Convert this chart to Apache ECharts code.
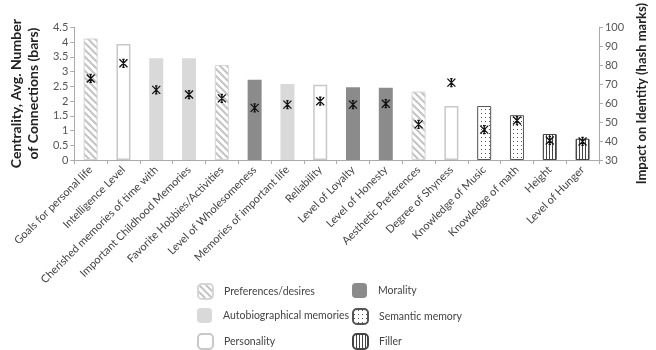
<!DOCTYPE html>
<html><head><meta charset="utf-8">
<script src="https://cdn.jsdelivr.net/npm/echarts@6/dist/echarts.min.js"></script>
<style>html,body{margin:0;padding:0;background:#fff}#c{width:656px;height:350px}</style>
</head><body><div id="c"></div>
<script>
const categories = ['Goals for personal life','Intelligence Level','Cherished memories of time with','Important Childhood Memories','Favorite Hobbies/Activities','Level of Wholesomeness','Memories of important life','Reliability','Level of Loyalty','Level of Honesty','Aesthetic Preferences','Degree of Shyness','Knowledge of Music','Knowledge of math','Height','Level of Hunger'];
const centrality = [4.12, 3.93, 3.45, 3.45, 3.22, 2.72, 2.58, 2.55, 2.47, 2.45, 2.32, 1.83, 1.83, 1.52, 0.88, 0.72];
const impact = [73, 81, 67, 64.5, 62.5, 57.5, 59.2, 61, 59.2, 59.7, 48.8, 70.8, 46, 50.8, 40.3, 39.8];
const groupOf = ['Preferences/desires','Personality','Autobiographical memories','Autobiographical memories','Preferences/desires','Morality','Autobiographical memories','Personality','Morality','Morality','Preferences/desires','Personality','Semantic memory','Semantic memory','Filler','Filler'];
const groups = ['Preferences/desires','Autobiographical memories','Personality','Morality','Semantic memory','Filler'];
const leftTicks = [0, 4.5, 0.5];
const rightTicks = [30, 100, 10];

function pat(w, h, draw) {
  const c = document.createElement('canvas'); c.width = w; c.height = h;
  const g = c.getContext('2d'); g.fillStyle = '#fff'; g.fillRect(0, 0, w, h); draw(g); return c;
}
const hatch = pat(7, 7, g => {
  g.strokeStyle = '#c4c4c4'; g.lineWidth = 2;
  g.beginPath(); g.moveTo(-1, -1); g.lineTo(8, 8); g.moveTo(-8, -1); g.lineTo(1, 8); g.moveTo(6, -1); g.lineTo(15, 8); g.stroke();
});
const dots = pat(4, 4, g => { g.fillStyle = '#555'; g.fillRect(1, 1, 1, 1); });
const vlines = pat(3, 2, g => { g.fillStyle = '#444'; g.fillRect(0, 0, 1, 2); });

const styles = {
  'Preferences/desires': { color: { image: hatch, repeat: 'repeat' }, borderColor: '#d6d6d6', borderWidth: 1 },
  'Autobiographical memories': { color: '#d9d9d9', borderColor: '#d9d9d9', borderWidth: 0 },
  'Personality': { color: '#ffffff', borderColor: '#c8c8c8', borderWidth: 1.5 },
  'Morality': { color: '#8b8b8b', borderColor: '#888', borderWidth: 0 },
  'Semantic memory': { color: { image: dots, repeat: 'repeat' }, borderColor: '#555', borderWidth: 1 },
  'Filler': { color: { image: vlines, repeat: 'repeat' }, borderColor: '#444', borderWidth: 1 }
};

const barSeries = groups.map(gname => ({
  name: gname, type: 'bar', barWidth: 14, barGap: '-100%',
  itemStyle: styles[gname],
  data: centrality.map((v, i) => groupOf[i] === gname ? v : '-')
}));

const lab = { fontFamily: 'Lato', fontSize: 11, color: '#555' };
const legText = { fontFamily: 'Lato', fontSize: 10.5, color: '#444', padding: [0, 0, 0, 6] };
const legendPos = [[197, 283], [197, 308], [197, 333], [352, 283], [352, 308], [352, 333]];
const legends = groups.map((gname, i) => ({
  data: [gname], left: legendPos[i][0], top: legendPos[i][1], padding: 0,
  itemWidth: 15, itemHeight: 15, textStyle: legText
}));

const chart = echarts.init(document.getElementById('c'));
chart.setOption({
  animation: false,
  textStyle: { fontFamily: 'Lato' },
  grid: { left: 62, right: 43, top: 17, bottom: 190 },
  xAxis: {
    type: 'category', data: categories,
    axisLine: { lineStyle: { color: '#aaa' } },
    axisTick: { show: true, lineStyle: { color: '#aaa' }, length: 4 },
    axisLabel: { rotate: 45, interval: 0, margin: 8, fontFamily: 'Lato', fontSize: 11, color: '#444' }
  },
  yAxis: [{
    type: 'value', min: leftTicks[0], max: leftTicks[1], interval: leftTicks[2],
    name: 'Centrality, Avg. Number\nof Connections (bars)', nameLocation: 'middle', nameGap: 25,
    nameTextStyle: { fontFamily: 'Lato', fontSize: 14, fontWeight: 'bold', color: '#222', lineHeight: 17 },
    axisLine: { show: true, lineStyle: { color: '#aaa' } },
    axisTick: { show: true, length: 4, lineStyle: { color: '#aaa' } },
    splitLine: { show: false },
    axisLabel: Object.assign({ margin: 6 }, lab)
  }, {
    type: 'value', min: rightTicks[0], max: rightTicks[1], interval: rightTicks[2], position: 'right',
    name: 'Impact on Identity (hash marks)', nameLocation: 'middle', nameGap: 27, nameRotate: 90,
    nameTextStyle: { fontFamily: 'Lato', fontSize: 13, fontWeight: 'bold', color: '#222' },
    axisLine: { show: true, lineStyle: { color: '#aaa' } },
    axisTick: { show: true, length: 4, lineStyle: { color: '#aaa' } },
    splitLine: { show: false },
    axisLabel: Object.assign({ margin: 6 }, lab)
  }],
  legend: legends,
  series: barSeries.concat([{
    name: 'Impact', type: 'scatter', yAxisIndex: 1, z: 5,
    symbol: 'path://M0,0L10,10M10,0L0,10M5,0L5,10M3.5,0L6.5,0M3.5,10L6.5,10', symbolSize: 8,
    itemStyle: { color: 'rgba(0,0,0,0)', borderColor: '#111', borderWidth: 1.3, opacity: 1 },
    data: impact
  }])
});
</script></body></html>
